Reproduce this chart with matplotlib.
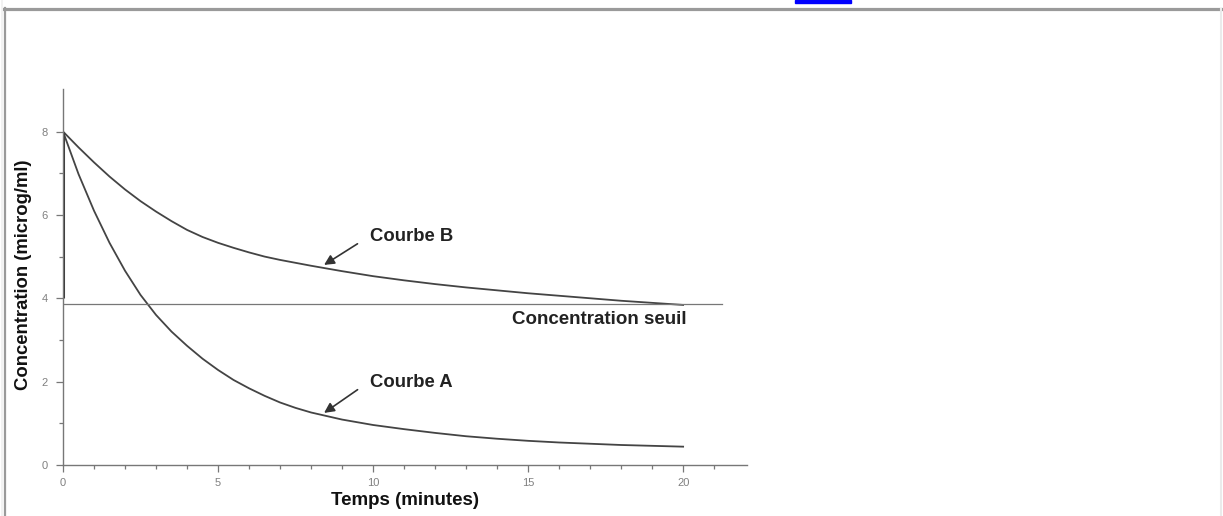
import matplotlib
matplotlib.use("Agg")
from matplotlib import pyplot as plt
from matplotlib.patches import Rectangle
from matplotlib.lines import Line2D

plt.rcParams['font.family'] = ['Liberation Sans', 'DejaVu Sans']

# time in minutes and concentrations
temps = [0, 0.5, 1, 1.5, 2, 2.5, 3, 3.5, 4, 4.5, 5, 5.5, 6, 6.5, 7, 7.5, 8,
         9, 10, 11, 12, 13, 14, 15, 16, 17, 18, 19, 20]
courbe_a = [8.0, 6.98, 6.1, 5.33, 4.66, 4.08, 3.6, 3.2, 2.86, 2.55, 2.28, 2.04,
            1.84, 1.66, 1.5, 1.37, 1.26, 1.09, 0.96, 0.86, 0.77, 0.69, 0.63,
            0.58, 0.54, 0.51, 0.48, 0.46, 0.44]
courbe_b = [8.0, 7.62, 7.26, 6.92, 6.61, 6.33, 6.08, 5.85, 5.64, 5.47, 5.33,
            5.21, 5.1, 5.0, 4.92, 4.85, 4.78, 4.65, 4.53, 4.43, 4.34, 4.26,
            4.19, 4.12, 4.06, 4.0, 3.94, 3.89, 3.84]
seuil = 3.87
seuil_fin = 21.25

fig = plt.figure(figsize=(12.23, 5.16), dpi=100)

# page frame + link underline around the picture
fig.add_artist(Line2D([4 / 1223, 1], [507.5 / 516, 507.5 / 516], color='#9a9a9a', lw=2.3))
fig.add_artist(Line2D([4.5 / 1223, 4.5 / 1223], [0, 508.5 / 516], color='#9a9a9a', lw=1.6))
fig.add_artist(Line2D([1220.5 / 1223, 1220.5 / 1223], [0, 507 / 516], color='#ebebeb', lw=1.5))
fig.add_artist(Line2D([1.5 / 1223, 1.5 / 1223], [0, 1], color='#f0f0f0', lw=1.2))
fig.patches.append(Rectangle((795 / 1223, 513 / 516), 56 / 1223, 3 / 516,
                             transform=fig.transFigure, color='#0000ff'))

ax = fig.add_axes([63 / 1223, 51 / 516, 684 / 1223, 376 / 516])

ax.plot(temps, courbe_a, color='#444444', lw=1.3)
ax.plot(temps, courbe_b, color='#444444', lw=1.3)
ax.plot([0, seuil_fin], [seuil, seuil], color='#777777', lw=0.9)
ax.vlines(0, 4.0, courbe_a[0], color='#333333', lw=2.2)

ax.set_xlim(0, 22.06)
ax.set_ylim(0, 9.02)
ax.set_xticks([0, 5, 10, 15, 20])
ax.set_xticks(range(0, 22), minor=True)
ax.set_yticks([0, 2, 4, 6, 8])
ax.set_yticks([1, 3, 5, 7], minor=True)
ax.tick_params(which='major', length=5, width=0.9, color='#777777',
               labelsize=8, labelcolor='#808080', pad=4)
ax.tick_params(which='minor', length=3, width=0.9, color='#777777')
ax.tick_params(axis='y', pad=6)

for side in ['top', 'right']:
    ax.spines[side].set_visible(False)
for side in ['left', 'bottom']:
    ax.spines[side].set_color('#777777')
    ax.spines[side].set_linewidth(1.0)

ax.set_xlabel('Temps (minutes)', fontsize=13.5, fontweight='bold', labelpad=3,
              color='#111111')
ax.set_ylabel('Concentration (microg/ml)', fontsize=13.3, fontweight='bold',
              color='#111111')
ax.yaxis.set_label_coords(-0.0453, 0.505)

fleche = dict(arrowstyle='-|>', color='#333333', lw=1.2, mutation_scale=15)
ax.annotate('Courbe B', xy=(8.42, 4.8), xytext=(9.9, 5.47), fontsize=13.3,
            fontweight='bold', va='center', ha='left', color='#222222',
            arrowprops=dict(fleche, shrinkA=0, shrinkB=0, relpos=(-0.15, 0.1)))
ax.annotate('Courbe A', xy=(8.42, 1.25), xytext=(9.9, 1.97), fontsize=13.3,
            fontweight='bold', va='center', ha='left', color='#222222',
            arrowprops=dict(fleche, shrinkA=0, shrinkB=0, relpos=(-0.15, 0.1)))
ax.text(20.1, 3.48, 'Concentration seuil', fontsize=13.5, fontweight='bold',
        ha='right', va='center', color='#222222')

fig.savefig('out.png', dpi=100)
